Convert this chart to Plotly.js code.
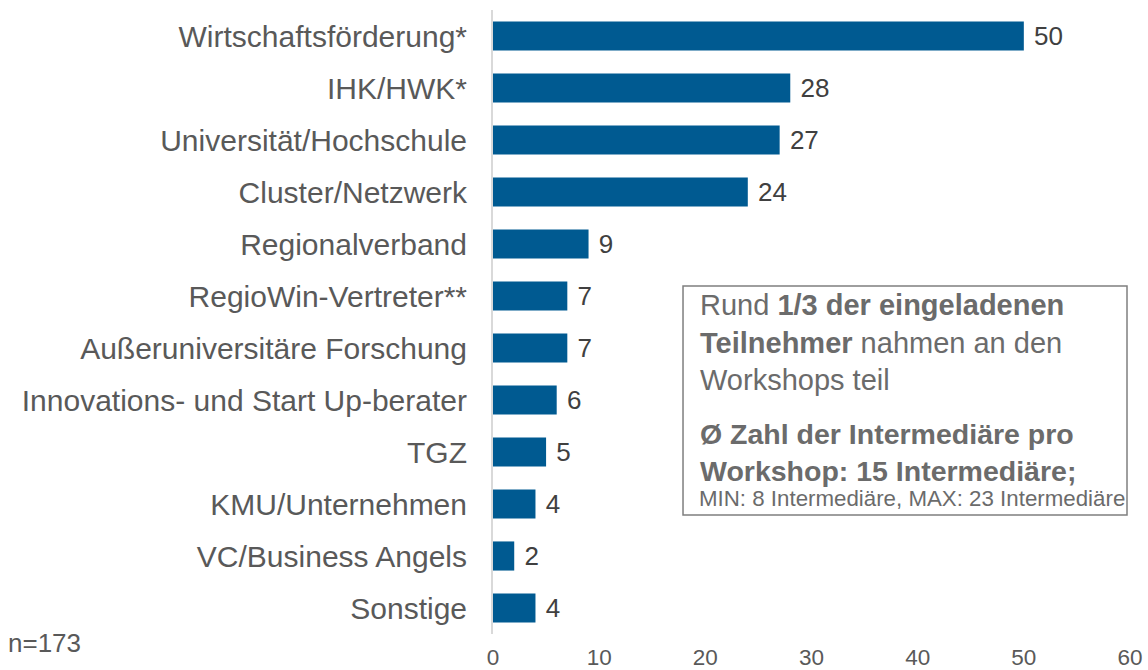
<!DOCTYPE html>
<html>
<head>
<meta charset="utf-8">
<script src="https://cdn.plot.ly/plotly-3.0.1.min.js"></script>
<style>html,body{margin:0;padding:0;background:#fff;}#chart{width:1148px;height:670px;}</style>
</head>
<body>
<div id="chart"></div>
<script>
const categories = [
  "Wirtschaftsförderung*",
  "IHK/HWK*",
  "Universität/Hochschule",
  "Cluster/Netzwerk",
  "Regionalverband",
  "RegioWin-Vertreter**",
  "Außeruniversitäre Forschung",
  "Innovations- und Start Up-berater",
  "TGZ",
  "KMU/Unternehmen",
  "VC/Business Angels",
  "Sonstige"
];
const values = [50, 28, 27, 24, 9, 7, 7, 6, 5, 4, 2, 4];
const xTicks = [0, 10, 20, 30, 40, 50, 60];
const sampleNote = "n=173";
const boxBlock1 = "Rund <b>1/3 der eingeladenen</b><br><b>Teilnehmer</b> nahmen an den<br>Workshops teil";
const boxBlock2 = "<b>Ø Zahl der Intermediäre pro</b><br><b>Workshop: 15 Intermediäre;</b>";
const boxBlock3 = "MIN: 8 Intermediäre, MAX: 23 Intermediäre";

const FONT = "Liberation Sans, Arial, sans-serif";

const trace = {
  type: "bar",
  orientation: "h",
  y: categories,
  x: values,
  text: values.map(v => "\u00a0" + v),
  textposition: "outside",
  cliponaxis: false,
  textfont: {family: FONT, size: 29.5, color: "#404040"},
  marker: {color: "#005a91"},
  hoverinfo: "x+y"
};

const layout = {
  width: 1148,
  height: 670,
  margin: {l: 493, r: 18, t: 10, b: 36},
  paper_bgcolor: "#ffffff",
  plot_bgcolor: "#ffffff",
  showlegend: false,
  bargap: 0.44,
  font: {family: FONT, color: "#595959"},
  xaxis: {
    range: [0, 60],
    tickvals: xTicks,
    ticktext: xTicks.map(String),
    showgrid: false,
    zeroline: false,
    showline: false,
    ticks: "outside",
    ticklen: 3,
    tickcolor: "rgba(0,0,0,0)",
    tickfont: {family: FONT, size: 22.5, color: "#595959"},
    fixedrange: true
  },
  yaxis: {
    type: "category",
    autorange: "reversed",
    showgrid: false,
    zeroline: false,
    showline: true,
    linecolor: "#d9d9d9",
    linewidth: 2,
    ticks: "outside",
    ticklen: 18,
    tickcolor: "rgba(0,0,0,0)",
    tickfont: {family: FONT, size: 30, color: "#595959"},
    fixedrange: true
  },
  shapes: [{
    type: "rect",
    xref: "paper", yref: "paper",
    x0: 0.2983, x1: 0.9953,
    y0: 0.1907, y1: 0.5577,
    line: {color: "#7f7f7f", width: 1.5},
    fillcolor: "rgba(255,255,255,0)"
  }],
  annotations: [
    {
      xref: "paper", yref: "paper",
      x: 0.3218, y: 0.4671,
      xanchor: "left", yanchor: "middle",
      align: "left", showarrow: false,
      text: boxBlock1,
      font: {family: FONT, size: 29, color: "#6b6b6b"}
    },
    {
      xref: "paper", yref: "paper",
      x: 0.3218, y: 0.2909,
      xanchor: "left", yanchor: "middle",
      align: "left", showarrow: false,
      text: boxBlock2,
      font: {family: FONT, size: 28.5, color: "#6b6b6b"}
    },
    {
      xref: "paper", yref: "paper",
      x: 0.3202, y: 0.2179,
      xanchor: "left", yanchor: "middle",
      align: "left", showarrow: false,
      text: boxBlock3,
      font: {family: FONT, size: 22.3, color: "#6b6b6b"}
    },
    {
      xref: "paper", yref: "paper",
      x: -0.7645, y: -0.0144,
      xanchor: "left", yanchor: "middle",
      align: "left", showarrow: false,
      text: sampleNote,
      font: {family: FONT, size: 26, color: "#595959"}
    }
  ]
};

Plotly.newPlot("chart", [trace], layout, {displayModeBar: false, staticPlot: true});
</script>
</body>
</html>
